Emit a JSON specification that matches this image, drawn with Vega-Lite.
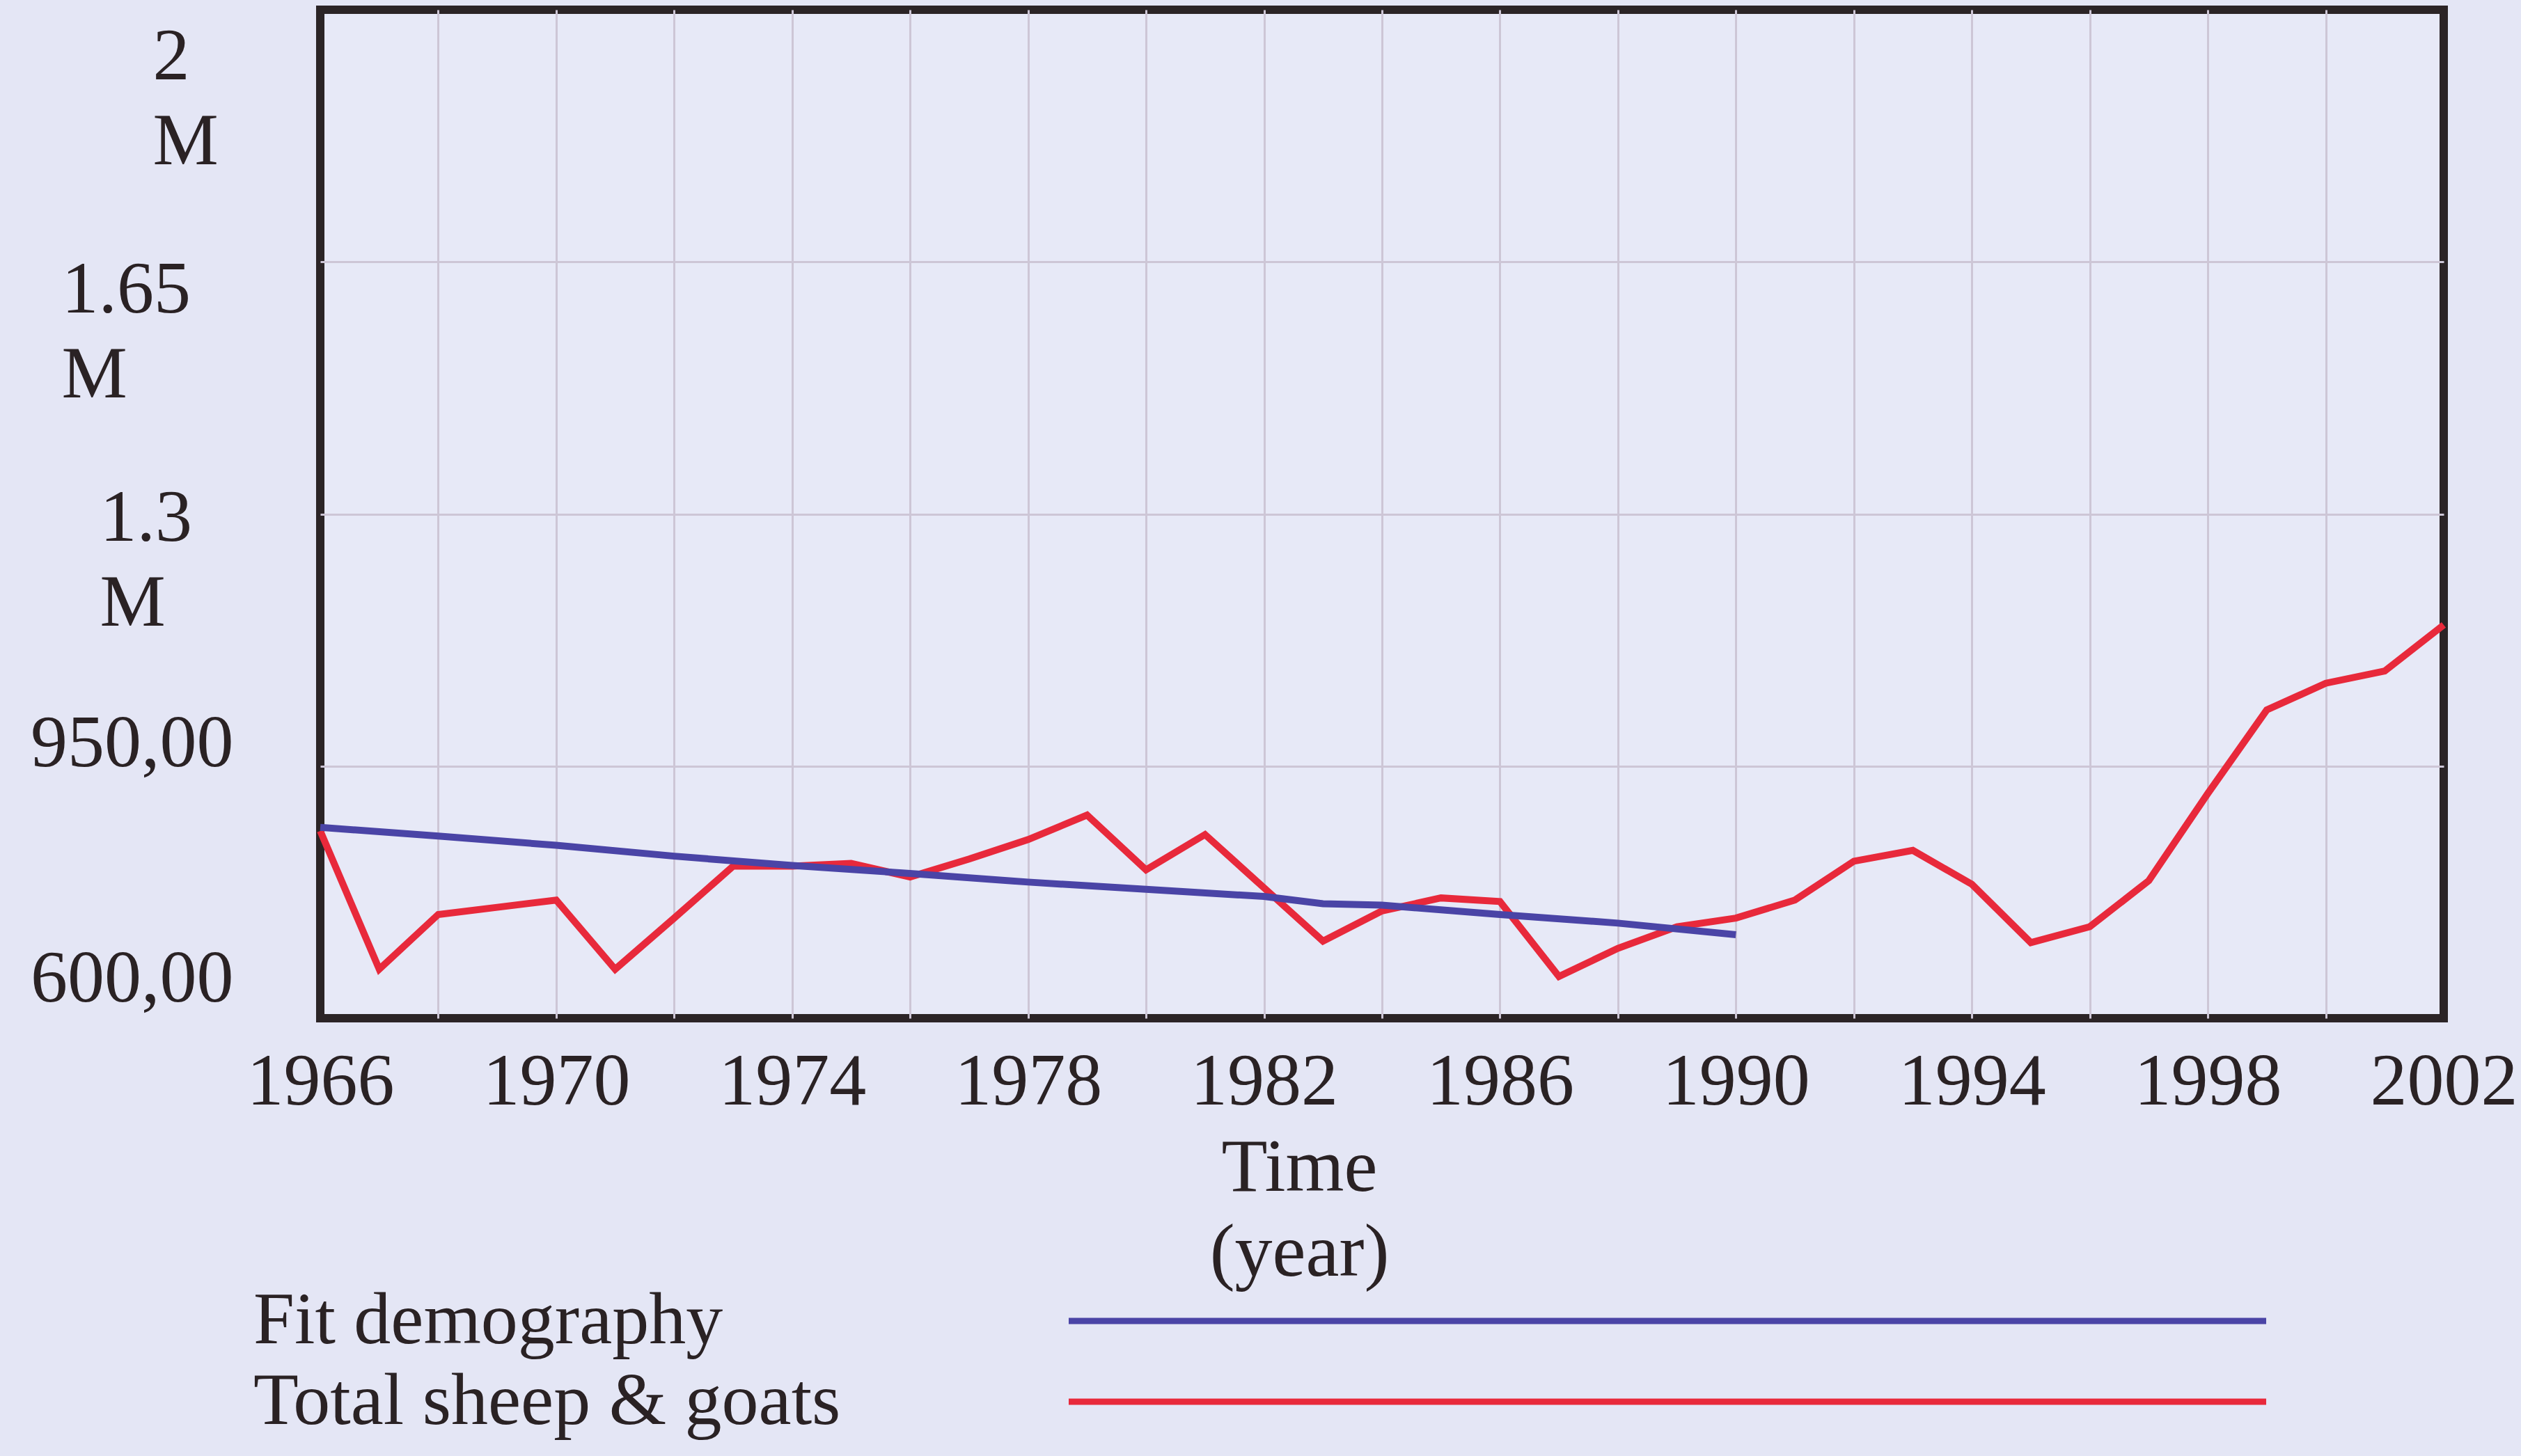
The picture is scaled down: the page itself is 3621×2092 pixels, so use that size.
{
  "$schema": "https://vega.github.io/schema/vega-lite/v6.json",
  "width": 3050,
  "height": 1449,
  "autosize": {"type": "none"},
  "padding": {"left": 460, "top": 14, "right": 111, "bottom": 629},
  "background": "#e4e6f5",
  "config": {
    "view": {"fill": "#e7e9f7", "stroke": "#2b2426", "strokeWidth": 12},
    "font": "Liberation Serif"
  },
  "data": {
    "values": [
      {"year": 1966, "value": 860000, "series": "Total sheep & goats"},
      {"year": 1967, "value": 668000, "series": "Total sheep & goats"},
      {"year": 1968, "value": 744000, "series": "Total sheep & goats"},
      {"year": 1969, "value": 754000, "series": "Total sheep & goats"},
      {"year": 1970, "value": 764000, "series": "Total sheep & goats"},
      {"year": 1971, "value": 668000, "series": "Total sheep & goats"},
      {"year": 1972, "value": 739000, "series": "Total sheep & goats"},
      {"year": 1973, "value": 811000, "series": "Total sheep & goats"},
      {"year": 1974, "value": 811000, "series": "Total sheep & goats"},
      {"year": 1975, "value": 815000, "series": "Total sheep & goats"},
      {"year": 1976, "value": 796000, "series": "Total sheep & goats"},
      {"year": 1977, "value": 821000, "series": "Total sheep & goats"},
      {"year": 1978, "value": 848000, "series": "Total sheep & goats"},
      {"year": 1979, "value": 882000, "series": "Total sheep & goats"},
      {"year": 1980, "value": 806000, "series": "Total sheep & goats"},
      {"year": 1981, "value": 855000, "series": "Total sheep & goats"},
      {"year": 1982, "value": 781000, "series": "Total sheep & goats"},
      {"year": 1983, "value": 707000, "series": "Total sheep & goats"},
      {"year": 1984, "value": 749000, "series": "Total sheep & goats"},
      {"year": 1985, "value": 767000, "series": "Total sheep & goats"},
      {"year": 1986, "value": 762000, "series": "Total sheep & goats"},
      {"year": 1987, "value": 658000, "series": "Total sheep & goats"},
      {"year": 1988, "value": 697000, "series": "Total sheep & goats"},
      {"year": 1989, "value": 727000, "series": "Total sheep & goats"},
      {"year": 1990, "value": 739000, "series": "Total sheep & goats"},
      {"year": 1991, "value": 764000, "series": "Total sheep & goats"},
      {"year": 1992, "value": 818000, "series": "Total sheep & goats"},
      {"year": 1993, "value": 833000, "series": "Total sheep & goats"},
      {"year": 1994, "value": 786000, "series": "Total sheep & goats"},
      {"year": 1995, "value": 705000, "series": "Total sheep & goats"},
      {"year": 1996, "value": 727000, "series": "Total sheep & goats"},
      {"year": 1997, "value": 791000, "series": "Total sheep & goats"},
      {"year": 1998, "value": 912000, "series": "Total sheep & goats"},
      {"year": 1999, "value": 1028000, "series": "Total sheep & goats"},
      {"year": 2000, "value": 1065000, "series": "Total sheep & goats"},
      {"year": 2001, "value": 1082000, "series": "Total sheep & goats"},
      {"year": 2002, "value": 1146000, "series": "Total sheep & goats"},
      {"year": 1966, "value": 865000, "series": "Fit demography"},
      {"year": 1968, "value": 853000, "series": "Fit demography"},
      {"year": 1970, "value": 840000, "series": "Fit demography"},
      {"year": 1972, "value": 825000, "series": "Fit demography"},
      {"year": 1974, "value": 812000, "series": "Fit demography"},
      {"year": 1976, "value": 801000, "series": "Fit demography"},
      {"year": 1978, "value": 789000, "series": "Fit demography"},
      {"year": 1980, "value": 779000, "series": "Fit demography"},
      {"year": 1982, "value": 769000, "series": "Fit demography"},
      {"year": 1983, "value": 759000, "series": "Fit demography"},
      {"year": 1984, "value": 757000, "series": "Fit demography"},
      {"year": 1986, "value": 744000, "series": "Fit demography"},
      {"year": 1988, "value": 732000, "series": "Fit demography"},
      {"year": 1990, "value": 716000, "series": "Fit demography"}
    ]
  },
  "mark": {"type": "line", "strokeWidth": 10},
  "encoding": {
    "x": {
      "field": "year",
      "type": "quantitative",
      "scale": {"domain": [1966, 2002], "nice": false, "zero": false},
      "axis": {
        "values": [1966, 1968, 1970, 1972, 1974, 1976, 1978, 1980, 1982, 1984, 1986, 1988, 1990, 1992, 1994, 1996, 1998, 2000, 2002],
        "labelExpr": "(datum.value - 1966) % 4 == 0 ? toString(datum.value) : ''",
        "labelOverlap": false,
        "labelFlush": false,
        "labelLimit": 1000,
        "grid": true,
        "gridColor": "#cdc6d6",
        "gridWidth": 3,
        "gridOpacity": {"condition": {"test": "datum.value == 1966 || datum.value == 2002", "value": 0}, "value": 1},
        "domain": false,
        "ticks": false,
        "tickSize": 0,
        "labelFont": "Liberation Serif",
        "labelFontSize": 106,
        "labelColor": "#2a2224",
        "labelBaseline": "middle",
        "labelPadding": 91,
        "title": ["Time", "(year)"],
        "titleFont": "Liberation Serif",
        "titleFontSize": 108,
        "titleFontWeight": "normal",
        "titleColor": "#2a2224",
        "titleLineHeight": 122,
        "titleBaseline": "top",
        "titleAlign": "center",
        "titleX": 1406,
        "titleY": 162
      }
    },
    "y": {
      "field": "value",
      "type": "quantitative",
      "scale": {"domain": [600000, 2000000], "nice": false, "zero": false},
      "axis": {
        "values": [600000, 950000, 1300000, 1650000, 2000000],
        "labelExpr": "datum.value == 2000000 ? ['2', 'M'] : datum.value == 1650000 ? ['1.65', 'M'] : datum.value == 1300000 ? ['1.3', 'M'] : datum.value == 950000 ? '950,00' : '600,00'",
        "labelOverlap": false,
        "labelFlush": false,
        "labelLimit": 1000,
        "grid": true,
        "gridColor": "#cdc6d6",
        "gridWidth": 3,
        "gridOpacity": {"condition": {"test": "datum.value == 600000 || datum.value == 2000000", "value": 0}, "value": 1},
        "domain": false,
        "ticks": false,
        "tickSize": 0,
        "labelFont": "Liberation Serif",
        "labelFontSize": 106,
        "labelColor": "#2a2224",
        "labelLineHeight": 122,
        "labelBaseline": "middle",
        "labelAlign": {"condition": {"test": "datum.value >= 1000000", "value": "left"}, "value": "right"},
        "labelPadding": {"condition": [
          {"test": "datum.value == 2000000", "value": 241},
          {"test": "datum.value == 1650000", "value": 372},
          {"test": "datum.value == 1300000", "value": 317}
        ], "value": 125},
        "labelOffset": {"condition": [
          {"test": "datum.value == 2000000", "value": 67},
          {"test": "datum.value == 1650000", "value": 40},
          {"test": "datum.value == 1300000", "value": 6},
          {"test": "datum.value == 950000", "value": -32}
        ], "value": -57},
        "title": null
      }
    },
    "color": {
      "field": "series",
      "type": "nominal",
      "scale": {"domain": ["Fit demography", "Total sheep & goats"], "range": ["#4a44a6", "#e8293b"]},
      "legend": {
        "title": null,
        "orient": "none",
        "legendX": 1882,
        "legendY": 1831,
        "direction": "vertical",
        "symbolType": "M-20,0H20",
        "symbolSize": 7396,
        "symbolStrokeWidth": 9,
        "symbolOffset": 0,
        "labelFont": "Liberation Serif",
        "labelFontSize": 106,
        "labelColor": "#2a2224",
        "labelLimit": 2000,
        "labelOffset": -2084,
        "rowPadding": 10,
        "padding": 0
      }
    }
  }
}
